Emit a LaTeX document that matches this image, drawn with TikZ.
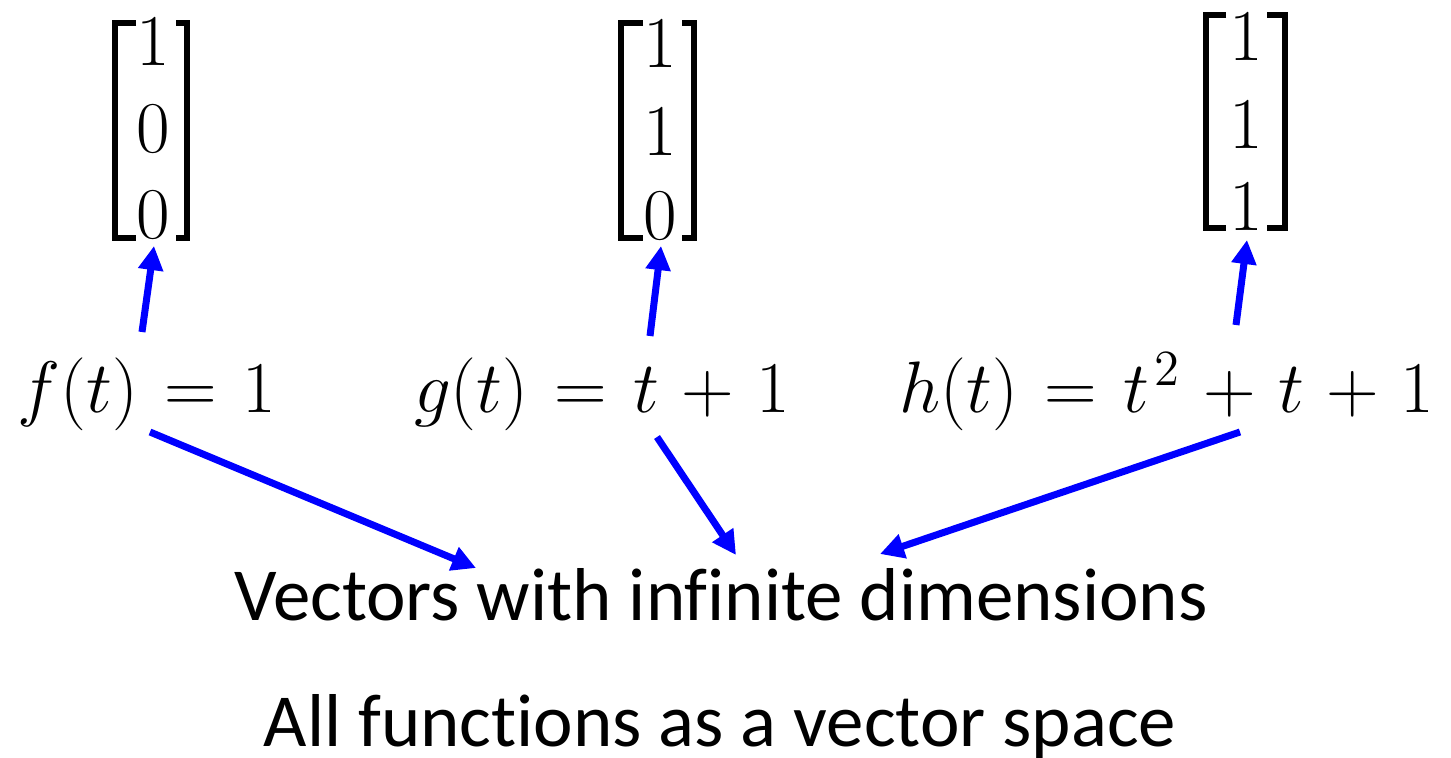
\documentclass[tikz,border=0pt]{standalone}
\usepackage{amsmath}
\usepackage{fontspec}
\setmainfont{Carlito}[Ligatures={NoCommon}]
\usetikzlibrary{arrows.meta}
\definecolor{arrowblue}{RGB}{0,0,255}
\tikzset{
  blue arrow/.style={draw=arrowblue, line width=0.07cm, -{Triangle[width=0.24cm,length=0.24cm]}},
  digit/.style={inner sep=0pt, anchor=base, font=\fontsize{20.5}{24}\selectfont},
  bracket/.style={draw=black, line width=0.06cm, miter limit=10},
  func/.style={inner sep=0pt, anchor=base, font=\fontsize{22.5}{26}\selectfont},
  label/.style={inner sep=0pt, anchor=base, font=\fontsize{21.3}{25}\selectfont}
}
\begin{document}
\begin{tikzpicture}[x=0.01cm, y=-0.01cm]
\thickmuskip=6.5mu plus 2mu
\medmuskip=5.5mu plus 2mu
\useasboundingbox (0,0) rectangle (1451,757);
% matrix 1
\node[digit] (m1a) at (153,65) {$1$};
\node[digit] (m1b) at (153,152) {$0$};
\node[digit] (m1c) at (153,238) {$0$};
\draw[bracket] (136,23) -- (115,23) -- (115,238) -- (136,238);
\draw[bracket] (176,23) -- (187,23) -- (187,238) -- (176,238);
% matrix 2
\node[digit] (m2a) at (660,67) {$1$};
\node[digit] (m2b) at (660,155) {$1$};
\node[digit] (m2c) at (660,239) {$0$};
\draw[bracket] (643,23) -- (621,23) -- (621,238) -- (643,238);
\draw[bracket] (682,23) -- (694,23) -- (694,238) -- (682,238);
% matrix 3
\node[digit] (m3a) at (1246,60) {$1$};
\node[digit] (m3b) at (1246,148) {$1$};
\node[digit] (m3c) at (1246,230) {$1$};
\draw[bracket] (1226,15) -- (1206,15) -- (1206,228) -- (1226,228);
\draw[bracket] (1267,15) -- (1285,15) -- (1285,228) -- (1267,228);
% functions
\node[func] (f) at (147,412) {$f(t) = 1$};
\node[func] (g) at (602,412) {$g(t) = t + 1$};
\node[func] (h) at (1167,412) {$h(t) = t^{\mkern2mu 2} + t + 1$};
% labels
\node[label] (vec) at (721,620) {Vectors with infinite dimensions};
\node[label] (all) at (720,746) {All functions as a vector space};
% arrow endpoints
\coordinate (f1) at (142,332);
\coordinate (m1t) at (154,246);
\coordinate (g1) at (650,336);
\coordinate (m2t) at (661,246);
\coordinate (h1) at (1236,325);
\coordinate (m3t) at (1247,240);
\coordinate (f2) at (150,432);
\coordinate (v1) at (476,568);
\coordinate (g2) at (657,437);
\coordinate (v2) at (736,555);
\coordinate (h2) at (1240,432);
\coordinate (v3) at (880,554);
\draw[blue arrow] (f1) -- (m1t);
\draw[blue arrow] (g1) -- (m2t);
\draw[blue arrow] (h1) -- (m3t);
\draw[blue arrow] (f2) -- (v1);
\draw[blue arrow] (g2) -- (v2);
\draw[blue arrow] (h2) -- (v3);
\end{tikzpicture}
\end{document}
